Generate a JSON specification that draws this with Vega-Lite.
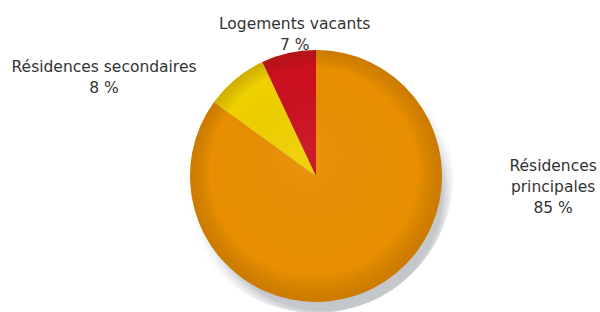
{
  "$schema": "https://vega.github.io/schema/vega-lite/v6.json",
  "width": 568,
  "height": 272,
  "autosize": {"type": "none"},
  "padding": {"left": 32, "top": 40, "right": 0, "bottom": 0},
  "background": "white",
  "view": {"stroke": null},
  "data": {"values": [
    {"cat": "Résidences principales", "pct": 85, "label": "Résidences\nprincipales\n85 %"},
    {"cat": "Résidences secondaires", "pct": 8, "label": "Résidences secondaires\n8 %"},
    {"cat": "Logements vacants", "pct": 7, "label": "Logements vacants\n7 %"}
  ]},
  "layer": [
    {
      "data": {"values": [{"s": 1}]},
      "mark": {"type": "arc", "radius": 137, "theta": 0, "theta2": 6.2832,
        "fill": {"gradient": "radial", "x1": 0.53, "y1": 0.56, "r1": 0, "x2": 0.53, "y2": 0.56, "r2": 0.5,
          "stops": [{"offset": 0, "color": "#b8bcc0"}, {"offset": 0.86, "color": "#c4c8cc"}, {"offset": 1, "color": "rgba(255,255,255,0)"}]}},
      "encoding": {}
    },
    {
      "mark": {"type": "arc", "radius": 126},
      "encoding": {
        "theta": {"field": "pct", "type": "quantitative", "stack": true},
        "order": {"field": "pct", "sort": "descending"},
        "color": {"field": "cat", "type": "nominal",
          "scale": {"domain": ["Résidences principales", "Résidences secondaires", "Logements vacants"], "range": ["#E88F00", "#EFD000", "#CC1020"]},
          "legend": null}
      }
    },
    {
      "data": {"values": [{"s": 1}]},
      "mark": {"type": "arc", "radius": 126, "theta": 0, "theta2": 6.2832,
        "fill": {"gradient": "radial", "x1": 0.45, "y1": 0.4, "r1": 0, "x2": 0.5, "y2": 0.5, "r2": 0.5,
          "stops": [{"offset": 0, "color": "rgba(255,255,255,0.06)"}, {"offset": 0.82, "color": "rgba(0,0,0,0)"}, {"offset": 1, "color": "rgba(90,40,0,0.2)"}]}},
      "encoding": {}
    },
    {
      "mark": {"type": "text", "radius": 148, "dx": 11, "dy": -8, "font": "DejaVu Sans", "fontSize": 15.5, "lineBreak": "\n", "lineHeight": 21, "align": "center", "baseline": "middle", "fill": "#333333"},
      "encoding": {
        "theta": {"field": "pct", "type": "quantitative", "stack": true},
        "order": {"field": "pct", "sort": "descending"},
        "text": {"condition": {"test": "datum.cat === 'Logements vacants'", "field": "label"}, "value": ""}
      }
    },
    {
      "mark": {"type": "text", "radius": 160, "dx": -110, "dy": 14, "font": "DejaVu Sans", "fontSize": 15.5, "lineBreak": "\n", "lineHeight": 21, "align": "center", "baseline": "middle", "fill": "#333333"},
      "encoding": {
        "theta": {"field": "pct", "type": "quantitative", "stack": true},
        "order": {"field": "pct", "sort": "descending"},
        "text": {"condition": {"test": "datum.cat === 'Résidences secondaires'", "field": "label"}, "value": ""}
      }
    },
    {
      "mark": {"type": "text", "radius": 150, "dx": 169, "dy": -144, "font": "DejaVu Sans", "fontSize": 15.5, "lineBreak": "\n", "lineHeight": 21, "align": "center", "baseline": "middle", "fill": "#333333"},
      "encoding": {
        "theta": {"field": "pct", "type": "quantitative", "stack": true},
        "order": {"field": "pct", "sort": "descending"},
        "text": {"condition": {"test": "datum.cat === 'Résidences principales'", "field": "label"}, "value": ""}
      }
    }
  ]
}
